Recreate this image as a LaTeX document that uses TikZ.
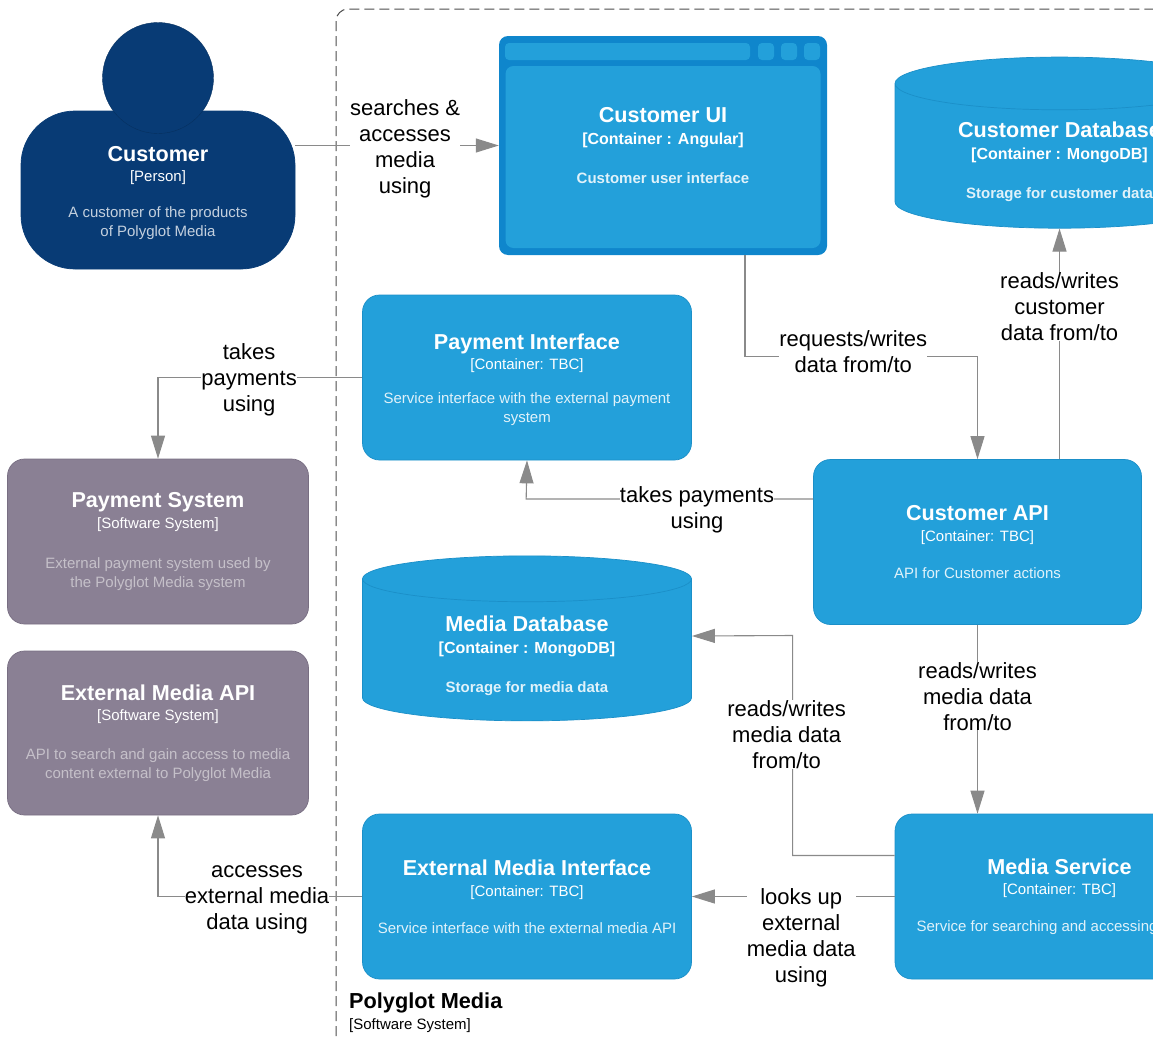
\documentclass[tikz,border=0pt]{standalone}
\usepackage{fontspec}
\setmainfont{Liberation Sans}
\usetikzlibrary{arrows.meta,shapes.geometric,calc}

\definecolor{containerblue}{HTML}{23A0DA}
\definecolor{containeredge}{HTML}{1B8FC8}
\definecolor{webframe}{HTML}{0F86CC}
\definecolor{personblue}{HTML}{083B75}
\definecolor{personedge}{HTML}{06305F}
\definecolor{systemgrey}{HTML}{8A8094}
\definecolor{systemedge}{HTML}{786E82}
\definecolor{flowgrey}{HTML}{8A8A8A}
\colorlet{blueprose}{white!86!containerblue}
\colorlet{greyprose}{white!50!systemgrey}
\colorlet{personprose}{white!76!personblue}

\newcommand{\titlefont}{\fontsize{21.6}{26}\bfseries\selectfont\color{white}}
\newcommand{\techfont}{\fontsize{15}{19}\selectfont\color{white}}
\newcommand{\boxtext}[4][18pt]{{\titlefont #2}\\[1.5pt]{\techfont [#3]}\\[#1]#4}
\newcommand{\boldboxtext}[3]{{\titlefont #1}\\[3pt]{\techfont\fontsize{16}{19}\bfseries\selectfont [#2]}\\[20pt]\bfseries #3}

\tikzset{
  boxbase/.style={align=center,inner sep=0pt,line width=0.7pt,font=\fontsize{15}{19}\selectfont},
  container/.style={boxbase,rectangle,rounded corners=17pt,draw=containeredge,fill=containerblue,
    minimum width=329pt,minimum height=165pt,text=blueprose},
  extsystem/.style={boxbase,rectangle,rounded corners=17pt,draw=systemedge,fill=systemgrey,
    minimum width=301pt,minimum height=165pt,text=greyprose},
  personbody/.style={boxbase,rectangle,rounded corners=54pt,draw=personblue,fill=personblue,
    minimum width=274pt,minimum height=158pt,text=personprose},
  personhead/.style={circle,draw=personedge,fill=personblue,minimum size=111pt,inner sep=0pt},
  database/.style={boxbase,cylinder,shape border rotate=90,aspect=0.26,draw=containeredge,fill=containerblue,
    minimum width=329pt,minimum height=165pt,text=blueprose},
  overlaytext/.style={boxbase,text=blueprose},
  webpane/.style={rectangle,rounded corners=8pt,fill=containerblue,inner sep=0pt},
  flow/.style={draw=flowgrey,line width=1.1pt,-{Triangle[length=23pt,width=14pt,fill=flowgrey]}},
  flowlabel/.style={fill=white,inner sep=0pt,align=center,text=black,font=\fontsize{22}{26}\selectfont},
  boundary/.style={draw=black!70,line width=1pt,dash pattern=on 10pt off 5pt,rounded corners=12pt}
}

\begin{document}
\begin{tikzpicture}[x=1pt,y=-1pt,node distance=0pt]
      \useasboundingbox (0,0) rectangle (1153,1036);

      \draw[boundary] (336,1036) -- (336,9) -- (1153,9);

      % outside the system
      \node[personbody] (customer) at (158,190) {\boxtext[17pt]{\rule{0pt}{21.5pt}Customer}{Person}{A customer of the products\\of Polyglot Media}};
      \node[personhead,above of=customer,yshift=112pt] (customerhead) {};
      \node[extsystem,below of=customer,yshift=-351.5pt] (paymentsys) {\boxtext[21pt]{Payment System}{Software System}{External payment system used by\\the Polyglot Media system}};
      \node[extsystem,below of=paymentsys,yshift=-191.5pt,minimum height=164pt] (extmediaapi) {\boxtext[20pt]{External Media API}{Software System}{API to search and gain access to media\\content external to Polyglot Media}};

      % inside the system
      \node[container,right of=paymentsys,xshift=369pt,yshift=164pt] (paymentif) {\boxtext[15pt]{\rule{0pt}{20pt}Payment Interface}{Container: TBC}{Service interface with the external payment\\system}};
      \node[container,right of=paymentif,xshift=450.5pt,yshift=-164.5pt,minimum width=328pt] (customerapi) {\boxtext{Customer API}{Container: TBC}{API for Customer actions}};
      \node[database,below of=paymentif,yshift=-272.5pt] (mediadb) {\boldboxtext{\rule{0pt}{27.5pt}Media Database}{Container : MongoDB}{Storage for media data}};
      \node[container,below of=mediadb,yshift=-246.5pt] (extmediaif) {\boxtext{External Media Interface}{Container: TBC}{Service interface with the external media API}};
      \node[container,right of=extmediaif,xshift=532.5pt] (mediaservice) {\boxtext{Media Service}{Container: TBC}{Service for searching and accessing\hphantom{ media}}};
      \node[database,above of=customerapi,xshift=82pt,yshift=386pt] (customerdb) {\boldboxtext{\rule{0pt}{27.5pt}Customer Database}{Container : MongoDB}{Storage for customer data}};

      % browser window
      \node[rectangle,rounded corners=9pt,fill=webframe,minimum width=328pt,minimum height=219pt] (customerui) at (663,145.5) {};
      \node[webpane,minimum width=315pt,minimum height=182pt] (uipane) at (663,157) {};
      \node[webpane,minimum width=245pt,minimum height=17pt,rounded corners=4pt] (uibar) at (627.5,51.5) {};
      \node[webpane,minimum width=16pt,minimum height=17pt,rounded corners=4pt] (uibtna) at (766,51.5) {};
      \node[webpane,right of=uibtna,xshift=23pt,minimum width=16pt,minimum height=17pt,rounded corners=4pt] (uibtnb) {};
      \node[webpane,right of=uibtnb,xshift=23pt,minimum width=16pt,minimum height=17pt,rounded corners=4pt] (uibtnc) {};
      \node[overlaytext] (uitext) at (customerui.center) {\boldboxtext{Customer UI}{Container : Angular}{Customer user interface}};

      \node[anchor=north west,inner sep=0pt,align=left,font=\fontsize{15}{19}\selectfont] (systemname) at (349,993)
        {{\fontsize{21.7}{25}\bfseries\selectfont Polyglot Media}\\[2pt]{[Software System]}};

      \draw[flow] (customer.east |- customerui.west) -- node[flowlabel,xshift=8pt,yshift=-3pt] {searches \&\\accesses\\media\\using} (customerui.west);
      \draw[flow] ([xshift=82pt]customerui.south) -- ++(0,101) -- node[flowlabel,xshift=-8pt,yshift=5pt] {requests/writes\\data from/to} ++(232.5,0) -- (customerapi.north);
      \draw[flow] (customerdb.south |- customerapi.north) -- node[flowlabel,pos=0.66] {reads/writes\\customer\\data from/to} (customerdb.south);
      \draw[flow] (paymentif.west) -- node[flowlabel,xshift=-11pt,yshift=-2pt] {takes\\payments\\using} (paymentsys.north |- paymentif.west) -- (paymentsys.north);
      \draw[flow] ([yshift=43pt]customerapi.west) -- ++(-287,0) -- (paymentif.south);
      \node[flowlabel] (paylabel) at (697,510) {takes payments\\using};
      \draw[flow] (customerapi.south) -- node[flowlabel,yshift=23pt] {reads/writes\\media data\\from/to} (mediaservice.north -| customerapi.south);
      \draw[flow] ([yshift=41pt]mediaservice.west) -- ++(-102,0) -- node[flowlabel,yshift=11pt,xshift=-6pt] {reads/writes\\media data\\from/to} ++(0,-220) -- (mediadb.east |- 0,636);
      \draw[flow] (mediaservice.west) -- node[flowlabel,yshift=-41pt,xshift=8pt] {looks up\\external\\media data\\using} (extmediaif.east);
      \draw[flow] (extmediaif.west) -- node[flowlabel,xshift=-3pt,yshift=-3pt] {accesses\\external media\\data using} (extmediaapi.south |- extmediaif.west) -- (extmediaapi.south);
    \end{tikzpicture}
\end{document}
